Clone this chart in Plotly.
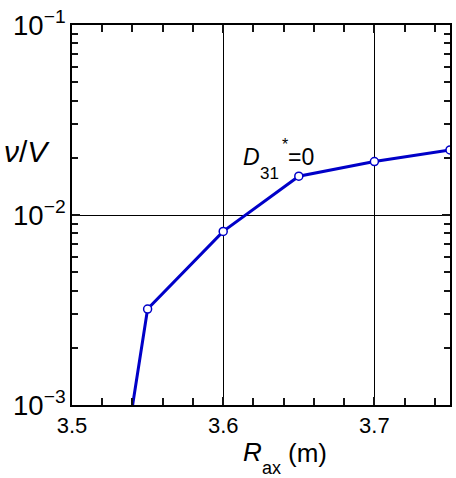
import plotly.graph_objects as go

# data
R_ax = [3.50, 3.55, 3.60, 3.65, 3.70, 3.75]
nu_V = [9e-6, 3.2e-3, 8.2e-3, 1.6e-2, 1.91e-2, 2.2e-2]

x_range = [3.5, 3.75]
y_range_log = [-3, -1]

W, H = 456, 478
L, Rm, T, B = 72, 4, 25, 73
PW, PH = W - L - Rm, H - T - B

def px(x):
    return (x - L) / PW

def py(y):
    return (T + PH - y) / PH

FONT = "Liberation Sans, Arial, sans-serif"
BLUE = "rgb(0,0,200)"

fig = go.Figure()
fig.add_trace(go.Scatter(
    x=R_ax, y=nu_V, mode="lines+markers",
    line=dict(color=BLUE, width=3),
    marker=dict(symbol="circle", size=8, color="white",
                line=dict(color=BLUE, width=1.5)),
    showlegend=False,
))

fig.update_xaxes(
    range=x_range, dtick=0.1, tick0=3.5,
    showline=True, linecolor="black", linewidth=2, mirror="allticks",
    ticks="inside", ticklen=8, tickwidth=2, tickcolor="rgb(20,20,20)",
    gridcolor="black", gridwidth=1, zeroline=False,
    tickfont=dict(family=FONT, size=22, color="black"),
    minor=dict(ticks="inside", ticklen=7, tickwidth=2,
               tickcolor="rgb(20,20,20)", dtick=0.02),
)
fig.update_yaxes(
    type="log", range=y_range_log, dtick=1,
    exponentformat="power",
    showline=True, linecolor="black", linewidth=2, mirror="allticks",
    ticks="inside", ticklen=8, tickwidth=2, tickcolor="rgb(20,20,20)",
    gridcolor="black", gridwidth=1, zeroline=False,
    tickfont=dict(family=FONT, size=22, color="black"),
    minor=dict(ticks="inside", ticklen=6, tickwidth=2,
               tickcolor="rgb(20,20,20)", dtick="D1"),
)

ann = []
def add(text, x, y, size, xanchor="left"):
    ann.append(dict(text=text, x=px(x), y=py(y), xref="paper", yref="paper",
                    xanchor=xanchor, yanchor="middle", showarrow=False,
                    font=dict(family=FONT, size=size, color="black")))

# y title
add("<i>ν</i>/<i>V</i>", 2, 151, 30)
# x title
add("<i>R</i>", 242, 452, 26)
add("ax", 261, 468, 18)
add("(m)", 287, 453, 26)
# curve label
add("<i>D</i>", 242, 157, 23)
add("31", 259, 173, 17)
add("*", 281, 144, 16)
add("=0", 287, 157, 23)

fig.update_layout(
    width=W, height=H,
    margin=dict(l=L, r=Rm, t=T, b=B),
    plot_bgcolor="white", paper_bgcolor="white",
    annotations=ann,
)

fig.write_html("out.html")
